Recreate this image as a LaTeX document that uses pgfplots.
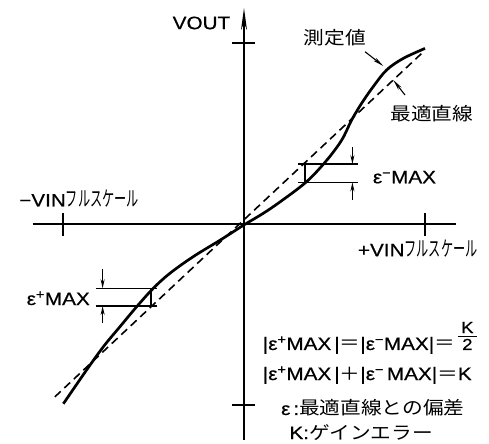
\documentclass[border=0pt]{standalone}
\usepackage{fontspec}
\usepackage{pgfplots}
\pgfplotsset{compat=1.18}
\usetikzlibrary{arrows.meta}
\setmainfont{Liberation Sans}[FakeStretch=1.15,FakeBold=0.6]
\newfontfamily\jp{Noto Sans CJK JP}[FakeStretch=1.15]
\newfontfamily\jpn{Noto Sans CJK JP}[FakeStretch=0.58]
\newcommand\Kfrac{\leavevmode\vbox{\fontsize{16}{16}\selectfont\hbox to 19pt{\hss K\hss}\kern 2.5pt\hrule height 0.8pt\kern 2.5pt\hbox to 19pt{\hss 2\hss}}}
\newcommand\FS{{\fontsize{21}{21}\jpn フルスケール}}
\begin{document}
\fontsize{18}{21}\selectfont
\begin{tikzpicture}
\begin{axis}[
  x=181pt, y=181pt,
  xmin=-1.168, xmax=1.17, ymin=-1.193, ymax=1.193,
  axis lines=middle,
  axis line style={line width=1.8pt, black},
  x axis line style={-},
  y axis line style={-{Stealth[length=22pt,width=6pt]}},
  xtick={-1,1}, ytick={-1,1},
  xticklabels={,,}, yticklabels={,,},
  tick align=center,
  major tick length=23pt,
  every tick/.style={black, line width=1.6pt},
  clip=false,
  every node/.style={inner sep=0pt},
]
% best-fit straight line
\addplot[black, line width=1.6pt, dash pattern=on 8pt off 5pt] coordinates {(-1.045,-0.955) (0.982,0.943)};
% measured values
\addplot[black, line width=2.7pt, smooth, tension=0.55] coordinates {
(-0.998,-0.993) (-0.87,-0.807) (-0.777,-0.678) (-0.685,-0.567) (-0.593,-0.457)
(-0.501,-0.355) (-0.409,-0.272) (-0.28,-0.18) (-0.133,-0.09) (0,-0.005)
(0.1,0.055) (0.199,0.122) (0.346,0.234) (0.457,0.352) (0.54,0.464)
(0.595,0.575) (0.65,0.667) (0.714,0.759) (0.788,0.851) (0.88,0.915) (1.0,0.97)};
% right bracket (epsilon- MAX)
\draw[line width=1.5pt] (axis cs:0.30,0.331) -- (axis cs:0.632,0.331);
\draw[line width=1.5pt] (axis cs:0.30,0.230) -- (axis cs:0.632,0.230);
\draw[line width=1.5pt] (axis cs:0.337,0.230) -- (axis cs:0.337,0.331);
\draw[line width=1.2pt,-{Stealth[length=9pt,width=4pt]}] (axis cs:0.599,0.427) -- (axis cs:0.599,0.331);
\draw[line width=1.2pt,-{Stealth[length=9pt,width=4pt]}] (axis cs:0.599,0.133) -- (axis cs:0.599,0.230);
% left bracket (epsilon+ MAX)
\draw[line width=1.5pt] (axis cs:-0.818,-0.355) -- (axis cs:-0.482,-0.355);
\draw[line width=1.5pt] (axis cs:-0.818,-0.453) -- (axis cs:-0.482,-0.453);
\draw[line width=1.5pt] (axis cs:-0.514,-0.355) -- (axis cs:-0.514,-0.453);
\draw[line width=1.2pt,-{Stealth[length=9pt,width=4pt]}] (axis cs:-0.781,-0.25) -- (axis cs:-0.781,-0.355);
\draw[line width=1.2pt,-{Stealth[length=9pt,width=4pt]}] (axis cs:-0.781,-0.545) -- (axis cs:-0.781,-0.453);
% annotation arrows
\draw[line width=1.1pt,-{Stealth[length=11pt,width=4pt]}] (axis cs:0.6685,0.952) -- (axis cs:0.7696,0.873);
\draw[line width=1.1pt,-{Stealth[length=11pt,width=4pt]}] (axis cs:0.8895,0.7127) -- (axis cs:0.8249,0.7956);
% labels
\node at (axis cs:-0.235,1.1105) {VOUT};
\node at (axis cs:0.503,1.0276) {\jp 測定値};
\node at (axis cs:1.037,0.609) {\jp 最適直線};
\node[anchor=base west] at (axis cs:-1.276,0.097) {−VIN\FS};
\node[anchor=base east] at (axis cs:1.325,-0.178) {+VIN\FS};
\node[anchor=base east] at (axis cs:-0.8177,-0.4475) {ε\textsuperscript{+}MAX};
\node[anchor=base west] at (axis cs:0.678,0.225) {ε\textsuperscript{−}MAX};
\node[anchor=base west] at (axis cs:0.070,-0.696) {|ε\textsuperscript{+}MAX\,|{\jp ＝}|ε\textsuperscript{−}MAX|{\jp ＝}\,\Kfrac};
\node[anchor=base west] at (axis cs:0.070,-0.862) {|ε\textsuperscript{+}MAX\,|{\jp ＋}|ε\textsuperscript{−}\,MAX|{\jp ＝}K};
\node[anchor=base west] at (axis cs:0.171,-1.055) {ε\,:{\jp 最適直線との偏差}};
\node[anchor=base west] at (axis cs:0.217,-1.188) {K:{\jp ゲインエラー}};
\coordinate (BL) at (axis cs:-1.348,-1.2099);
\coordinate (TR) at (axis cs:1.3536,1.2376);
\end{axis}
\pgfresetboundingbox
\path[use as bounding box] (BL) rectangle (TR);
\end{tikzpicture}
\end{document}
